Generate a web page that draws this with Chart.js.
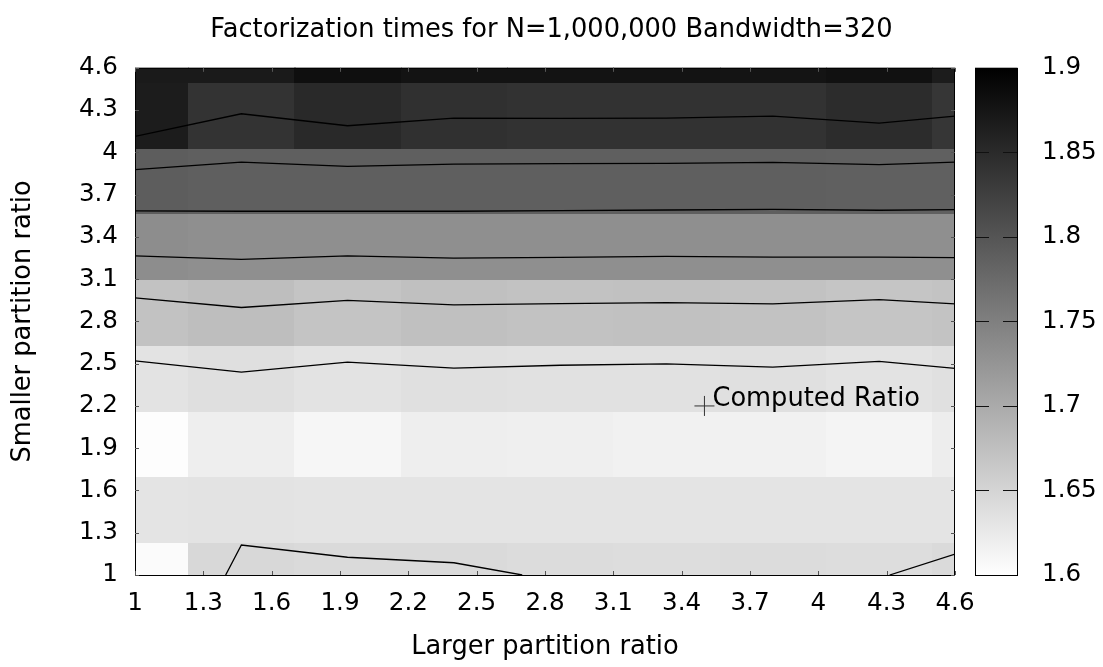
<!DOCTYPE html>
<html lang="en">
<head>
<meta charset="UTF-8">
<title>Factorization times</title>
<style>
    html, body { margin: 0; padding: 0; background: #fff; }
</style>
</head>
<body>
<canvas id="heatChart" width="1103" height="667"></canvas>

<script src="https://cdn.jsdelivr.net/npm/chart.js"></script>
<script>
    // cell centres, same steps on both ratios
    const gridPos = [1, 1.467, 1.933, 2.4, 2.867, 3.333, 3.8, 4.267, 4.733];

    // factorization time per cell, one row per smaller ratio (bottom row first)
    const times = [
        [1.605, 1.646, 1.644, 1.644, 1.641, 1.640, 1.641, 1.640, 1.644],
        [1.632, 1.633, 1.632, 1.632, 1.632, 1.632, 1.632, 1.632, 1.632],
        [1.602, 1.620, 1.611, 1.620, 1.619, 1.616, 1.616, 1.613, 1.621],
        [1.633, 1.638, 1.633, 1.636, 1.635, 1.635, 1.636, 1.633, 1.636],
        [1.672, 1.676, 1.669, 1.674, 1.672, 1.673, 1.672, 1.668, 1.671],
        [1.734, 1.732, 1.732, 1.732, 1.732, 1.732, 1.732, 1.732, 1.732],
        [1.791, 1.788, 1.788, 1.788, 1.788, 1.788, 1.788, 1.787, 1.787],
        [1.867, 1.840, 1.852, 1.844, 1.841, 1.841, 1.841, 1.848, 1.836],
        [1.869, 1.869, 1.882, 1.878, 1.878, 1.878, 1.876, 1.880, 1.867]
    ];

    const xTicks = [1, 1.3, 1.6, 1.9, 2.2, 2.5, 2.8, 3.1, 3.4, 3.7, 4, 4.3, 4.6];
    const yTicks = [1, 1.3, 1.6, 1.9, 2.2, 2.5, 2.8, 3.1, 3.4, 3.7, 4, 4.3, 4.6];
    const cbTicks = [1.6, 1.65, 1.7, 1.75, 1.8, 1.85, 1.9];
    const cbMin = 1.6;
    const cbMax = 1.9;

    // contour lines
    const contourX = [1, 1.467, 1.933, 2.4, 2.867, 3.333, 3.8, 4.267, 4.6];
    const contour1 = [4.113, 4.274, 4.189, 4.243, 4.241, 4.243, 4.257, 4.208, 4.257];
    const contour2 = [3.877, 3.931, 3.901, 3.917, 3.920, 3.922, 3.929, 3.913, 3.931];
    const contour3 = [3.584, 3.582, 3.582, 3.582, 3.587, 3.591, 3.596, 3.589, 3.594];
    const contour4 = [3.265, 3.241, 3.265, 3.250, 3.255, 3.262, 3.257, 3.257, 3.253];
    const contour5 = [2.967, 2.899, 2.950, 2.917, 2.927, 2.934, 2.924, 2.955, 2.924];
    const contour6 = [2.520, 2.440, 2.511, 2.468, 2.489, 2.499, 2.475, 2.516, 2.466];
    const lowLeftX = [1.398, 1.467, 1.933, 2.4, 2.70];
    const lowLeftY = [1, 1.213, 1.126, 1.087, 1];
    const lowRightX = [4.313, 4.6];
    const lowRightY = [1, 1.149];

    const computedRatio = { x: 3.5, y: 2.2 };
    const computedLabel = 'Computed Ratio';

    const textSize = 25.7;

    Chart.defaults.font.family = 'DejaVu Sans';
    Chart.defaults.font.size = 24.6;
    Chart.defaults.color = '#000';

    function grayFor(v) {
        const t = Math.min(1, Math.max(0, (cbMax - v) / (cbMax - cbMin)));
        const g = Math.round(255 * t);
        return `rgb(${g},${g},${g})`;
    }

    function contourData(ys) {
        return contourX.map((x, i) => ({ x: x, y: ys[i] }));
    }

    function lineSet(data) {
        return {
            type: 'line',
            data: data,
            borderColor: '#000',
            borderWidth: 1.3,
            pointRadius: 0,
            fill: false,
            tension: 0
        };
    }

    // heat cells under the contour lines, frame and colour box on top
    const heatPlugin = {
        id: 'heat',
        beforeDatasetsDraw(chart) {
            const { ctx, chartArea: a, scales: { x, y } } = chart;
            const half = (gridPos[1] - gridPos[0]) / 2;
            ctx.save();
            ctx.beginPath();
            ctx.rect(a.left, a.top, a.right - a.left, a.bottom - a.top);
            ctx.clip();
            times.forEach((row, j) => {
                row.forEach((v, i) => {
                    const x0 = Math.round(x.getPixelForValue(gridPos[i] - half));
                    const x1 = Math.round(x.getPixelForValue(gridPos[i] + half));
                    const y0 = Math.round(y.getPixelForValue(gridPos[j] + half));
                    const y1 = Math.round(y.getPixelForValue(gridPos[j] - half));
                    ctx.fillStyle = grayFor(v);
                    ctx.fillRect(x0, y0, x1 - x0 + 1, y1 - y0 + 1);
                });
            });
            ctx.restore();
        },
        afterDatasetsDraw(chart) {
            const { ctx, chartArea: a, scales: { x, y, cb } } = chart;
            ctx.save();
            // label next to the computed ratio marker
            const px = x.getPixelForValue(computedRatio.x);
            const py = y.getPixelForValue(computedRatio.y);
            ctx.fillStyle = '#000';
            ctx.font = `${textSize}px "DejaVu Sans"`;
            ctx.textAlign = 'left';
            ctx.textBaseline = 'middle';
            ctx.fillText(computedLabel, px + 8, py - 7);

            // frame and inward ticks
            ctx.strokeStyle = '#000';
            ctx.lineWidth = 1;
            ctx.strokeRect(a.left + 0.5, a.top + 0.5, a.right - a.left - 1, a.bottom - a.top);
            ctx.strokeStyle = '#555';
            ctx.beginPath();
            xTicks.forEach(t => {
                const p = Math.round(x.getPixelForValue(t)) + 0.5;
                ctx.moveTo(p, a.bottom); ctx.lineTo(p, a.bottom - 4);
                ctx.moveTo(p, a.top); ctx.lineTo(p, a.top + 4);
            });
            yTicks.forEach(t => {
                const p = Math.round(y.getPixelForValue(t)) + 0.5;
                ctx.moveTo(a.left, p); ctx.lineTo(a.left + 4, p);
                ctx.moveTo(a.right, p); ctx.lineTo(a.right - 4, p);
            });
            ctx.stroke();

            // colour box
            const bx0 = a.right + 20;
            const bx1 = a.right + 62;
            const top = cb.getPixelForValue(cbMax);
            const bottom = cb.getPixelForValue(cbMin);
            const grad = ctx.createLinearGradient(0, bottom, 0, top);
            grad.addColorStop(0, grayFor(cbMin));
            grad.addColorStop(1, grayFor(cbMax));
            ctx.fillStyle = grad;
            ctx.fillRect(bx0, top, bx1 - bx0, bottom - top);
            ctx.strokeStyle = '#111';
            ctx.beginPath();
            cbTicks.slice(1, -1).forEach(t => {
                const p = Math.round(cb.getPixelForValue(t)) + 0.5;
                ctx.moveTo(bx0, p); ctx.lineTo(bx0 + 14, p);
                ctx.moveTo(bx1, p); ctx.lineTo(bx1 - 14, p);
            });
            ctx.stroke();
            ctx.strokeStyle = '#000';
            ctx.strokeRect(bx0 + 0.5, top + 0.5, bx1 - bx0, bottom - top);
            ctx.restore();
        }
    };

    const ctx = document.getElementById('heatChart').getContext('2d');
    const heatChart = new Chart(ctx, {
        type: 'scatter',
        data: {
            datasets: [
                lineSet(contourData(contour1)),
                lineSet(contourData(contour2)),
                lineSet(contourData(contour3)),
                lineSet(contourData(contour4)),
                lineSet(contourData(contour5)),
                lineSet(contourData(contour6)),
                lineSet(lowLeftX.map((x, i) => ({ x: x, y: lowLeftY[i] }))),
                lineSet(lowRightX.map((x, i) => ({ x: x, y: lowRightY[i] }))),
                {
                    label: computedLabel,
                    data: [computedRatio],
                    pointStyle: 'cross',
                    pointRadius: 10,
                    borderColor: '#333',
                    borderWidth: 1
                }
            ]
        },
        options: {
            responsive: false,
            animation: false,
            layout: { padding: 0 },
            plugins: {
                legend: { display: false },
                tooltip: { enabled: false },
                title: {
                    display: true,
                    text: 'Factorization times for N=1,000,000 Bandwidth=320',
                    font: { size: textSize, weight: 'normal' },
                    color: '#000',
                    padding: { top: 15, bottom: 22 }
                }
            },
            scales: {
                x: {
                    type: 'linear',
                    position: 'bottom',
                    min: 1,
                    max: 4.6,
                    afterBuildTicks: s => { s.ticks = xTicks.map(v => ({ value: v })); },
                    afterFit: s => { s.height = 92; },
                    grid: { display: false, drawTicks: false },
                    border: { display: false },
                    ticks: { padding: 14, maxRotation: 0, callback: v => String(v) },
                    title: { display: true, text: 'Larger partition ratio', font: { size: textSize }, padding: { bottom: 4 } }
                },
                y: {
                    type: 'linear',
                    position: 'left',
                    min: 1,
                    max: 4.6,
                    afterBuildTicks: s => { s.ticks = yTicks.map(v => ({ value: v })); },
                    afterFit: s => { s.width = 135; s.paddingTop = 0; s.paddingBottom = 0; },
                    grid: { display: false, drawTicks: false },
                    border: { display: false },
                    ticks: { padding: 17, callback: v => String(v) },
                    title: { display: true, text: 'Smaller partition ratio', font: { size: textSize }, padding: { top: 8 } }
                },
                cb: {
                    type: 'linear',
                    position: 'right',
                    min: cbMin,
                    max: cbMax,
                    afterBuildTicks: s => { s.ticks = cbTicks.map(v => ({ value: v })); },
                    afterFit: s => { s.width = 148; s.paddingTop = 0; s.paddingBottom = 0; },
                    grid: { display: false, drawTicks: false },
                    border: { display: false },
                    ticks: { padding: 87, callback: v => String(v) }
                }
            }
        },
        plugins: [heatPlugin]
    });
</script>
</body>
</html>
